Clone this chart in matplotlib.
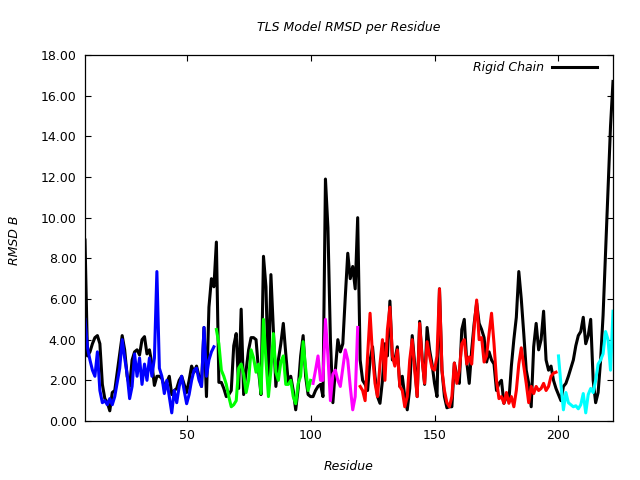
import numpy as np
import matplotlib
matplotlib.use('Agg')
import matplotlib.pyplot as plt
from matplotlib.ticker import FormatStrFormatter

# Rigid chain RMSD, one value per residue starting at residue 9
rigid_start = 9
rigid_rmsd = [
    8.9, 3.2, 3.4, 3.8, 4.1, 4.2, 3.8, 1.8, 1.1, 0.9,
    0.5, 1.4, 1.5, 2.4, 3.3, 4.2, 3.5, 2.2, 1.7, 3.0,
    3.4, 3.5, 3.25, 4.0, 4.15, 3.3, 3.5, 2.8, 1.75, 2.2,
    2.2, 2.1, 1.7, 1.9, 2.2, 1.3, 1.5, 1.6, 2.0, 2.2,
    1.8, 1.4, 2.0, 2.7, 2.4, 2.7, 2.2, 1.7, 4.6, 1.2,
    5.6, 7.0, 6.6, 8.8, 1.9, 1.9, 1.6, 1.2, 1.3, 1.5,
    3.7, 4.3, 1.6, 5.5, 1.3, 2.5, 3.5, 4.1, 4.1, 4.0,
    2.5, 1.3, 8.1, 6.6, 1.85, 7.2, 4.5, 1.7, 3.0, 3.8,
    4.8, 3.3, 1.9, 2.2, 1.5, 0.55, 1.6, 3.2, 4.2, 2.2,
    1.3, 1.2, 1.2, 1.5, 1.7, 1.8, 1.2, 11.9, 9.5, 4.0,
    0.9, 2.5, 4.0, 3.4, 3.8, 6.1, 8.25, 7.0, 7.6, 6.5,
    10.0, 3.0, 2.0, 1.8, 1.5, 3.0, 3.65, 2.2, 1.2, 0.87,
    2.0, 3.8, 3.2, 5.9, 3.0, 3.0, 3.65, 1.7, 2.2, 1.2,
    0.55, 1.6, 4.2, 2.8, 1.2, 4.9, 3.1, 1.8, 4.6, 3.5,
    2.8, 1.85, 1.2, 6.5, 2.5, 1.2, 0.65, 0.7, 0.7, 2.85,
    2.2, 1.85, 4.5, 5.0, 2.9, 1.85, 3.5, 4.8, 5.8, 4.8,
    4.5, 4.1, 2.9, 3.4, 3.0, 2.8, 1.5, 1.85, 2.0, 0.87,
    1.2, 1.0, 2.7, 4.0, 5.1, 7.35, 6.0, 4.3, 2.5, 1.85,
    0.7, 3.65, 4.8, 3.5, 4.0, 5.4, 3.0, 2.5, 2.7, 2.0,
    1.6, 1.3, 1.0, 1.7, 1.85, 2.2, 2.6, 3.0, 3.7, 4.2,
    4.4, 5.1, 3.8, 4.2, 5.0, 2.0, 0.9, 1.4, 3.0, 5.2,
    8.3, 11.3, 14.5, 16.7,
]

# TLS groups: first residue of each group and its RMSD values
tls_starts = [9, 62, 101, 120, 200]
tls_colors = ['#0000ff', '#00ff00', '#ff00ff', '#ff0000', '#00ffff']

tls_group1 = [
    5.0, 3.6, 3.0, 2.5, 2.2, 3.4, 1.5, 0.9, 1.0, 0.8,
    1.1, 0.8, 1.2, 1.9, 2.6, 4.0, 3.1, 2.3, 1.1, 1.7,
    3.3, 2.2, 3.1, 1.8, 2.8, 2.0, 3.1, 2.2, 3.1, 7.35,
    2.6, 2.2, 1.35, 2.0, 1.2, 0.4, 1.5, 0.9, 1.7, 2.2,
    1.5, 0.85, 1.3, 2.0, 2.5, 2.6, 2.0, 1.7, 4.6, 2.2,
    3.0, 3.4, 3.65,
]
tls_group2 = [
    4.5, 3.8, 2.5, 2.2, 1.8, 1.2, 0.7, 0.8, 1.0, 2.6,
    2.8, 2.3, 1.4, 2.0, 3.5, 3.1, 2.4, 2.8, 1.35, 5.0,
    3.0, 1.2, 2.5, 4.3, 2.4, 2.0, 2.9, 3.2, 1.8, 1.8,
    2.0, 1.2, 0.85, 1.85, 2.2, 3.9, 2.6, 1.5, 2.0,
]
tls_group3 = [
    1.85, 2.5, 3.2, 2.0, 2.0, 5.0, 3.2, 1.0, 2.3, 2.5,
    2.0, 1.7, 2.6, 3.5, 3.0, 1.7, 0.55, 1.2, 4.6,
]
tls_group4 = [
    1.7, 1.5, 1.0, 3.2, 5.3, 3.2, 1.85, 1.2, 2.8, 4.0,
    2.0, 4.5, 5.6, 3.2, 2.7, 3.5, 1.7, 1.5, 0.7, 1.2,
    3.0, 4.0, 2.5, 1.2, 4.8, 3.0, 1.85, 3.9, 3.2, 2.6,
    2.5, 3.2, 6.5, 2.5, 1.5, 0.9, 0.7, 1.2, 2.85, 1.85,
    2.5, 3.8, 4.0, 2.8, 3.15, 2.8, 4.6, 5.95, 4.0, 4.1,
    2.9, 3.2, 4.3, 5.3, 3.8, 2.0, 1.1, 1.2, 0.87, 1.4,
    0.87, 1.2, 0.7, 1.5, 2.8, 3.6, 2.7, 1.85, 0.9, 1.7,
    1.35, 1.7, 1.5, 1.6, 1.85, 1.5, 1.7, 2.2, 2.35, 2.4,
]
tls_group5 = [
    3.2, 1.8, 0.55, 1.4, 0.9, 0.8, 0.7, 0.75, 0.6, 0.8,
    1.35, 0.4, 1.3, 1.6, 1.4, 2.0, 2.8, 3.0, 3.3, 4.4,
    4.0, 2.5, 5.4,
]
tls_groups = [tls_group1, tls_group2, tls_group3, tls_group4, tls_group5]

fig = plt.figure(figsize=(6.4, 4.8), dpi=100)
ax = fig.add_axes([85 / 640, 59 / 480, 528 / 640, 366 / 480])

res = np.arange(rigid_start, rigid_start + len(rigid_rmsd))
ax.plot(res, rigid_rmsd, color='black', lw=2.2, label='Rigid Chain')

for start, vals, col in zip(tls_starts, tls_groups, tls_colors):
    r = np.arange(start, start + len(vals))
    ax.plot(r, vals, color=col, lw=2.2)

ax.set_xlim(res[0], res[-1])
ax.set_ylim(0, 18)
ax.set_yticks(np.arange(0, 19, 2))
ax.set_xticks([50, 100, 150, 200])
ax.yaxis.set_major_formatter(FormatStrFormatter('%.2f'))
ax.tick_params(direction='in', top=True, right=True, length=4, width=0.8,
               labelsize=9, pad=6)
for s in ax.spines.values():
    s.set_linewidth(0.9)

fig.text(349 / 640, 1 - 27 / 480, 'TLS Model RMSD per Residue',
         ha='center', va='center', style='italic', fontsize=9)
fig.text(349 / 640, 1 - 467 / 480, 'Residue',
         ha='center', va='center', style='italic', fontsize=9)
fig.text(14 / 640, 1 - 240 / 480, 'RMSD B', rotation=90,
         ha='center', va='center', style='italic', fontsize=9)

ax.legend(loc='center right', bbox_to_anchor=(597 / 640, 1 - 68 / 480),
          bbox_transform=fig.transFigure, frameon=False, markerfirst=False,
          handlelength=3.6, handletextpad=0.65, borderpad=0, borderaxespad=0,
          prop={'style': 'italic', 'size': 9})

fig.savefig('out.png', dpi=100)
